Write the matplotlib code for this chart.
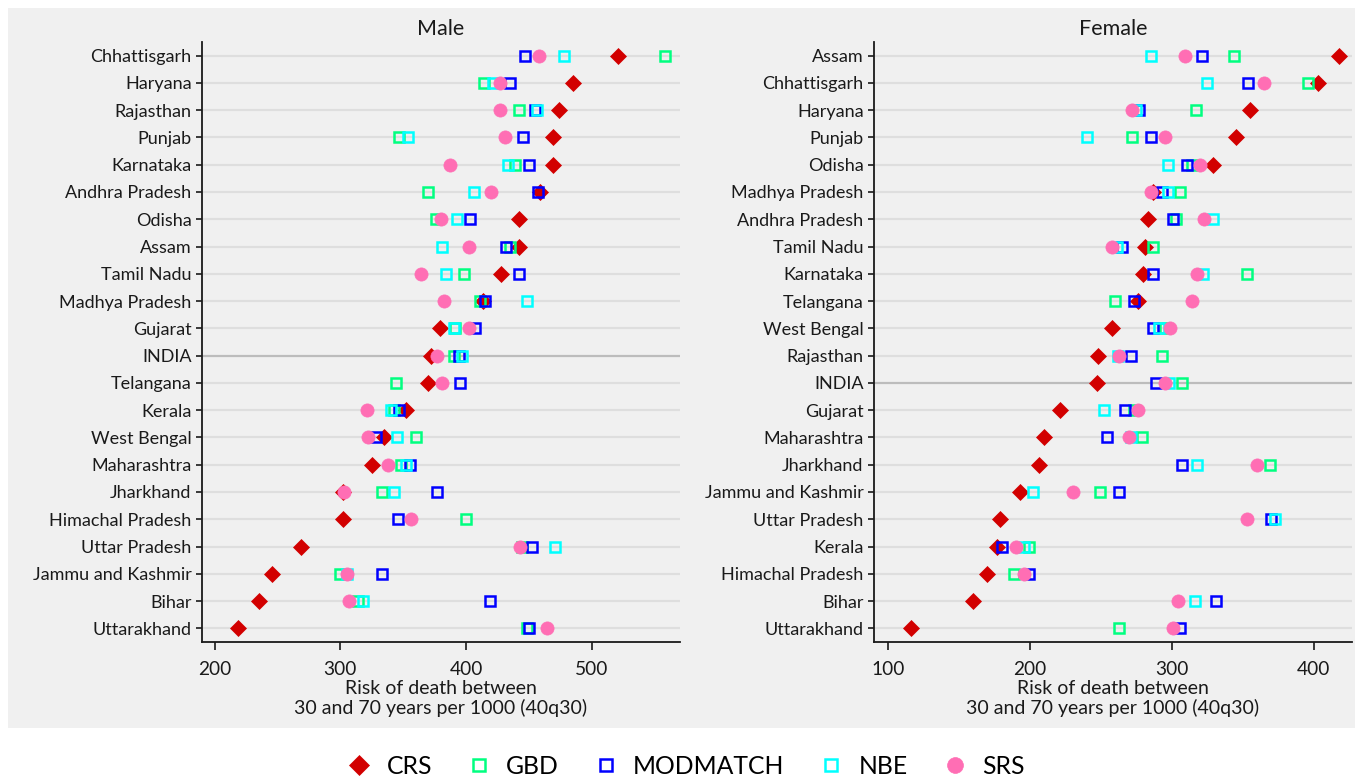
import numpy as np
import matplotlib
matplotlib.use("Agg")
import matplotlib.pyplot as plt
from matplotlib.patches import Rectangle
from matplotlib.lines import Line2D

plt.rcParams['font.family'] = ['Lato', 'DejaVu Sans']

nan = np.nan

# -------------------------------
# Data
# -------------------------------
states_m = ["Chhattisgarh", "Haryana", "Rajasthan", "Punjab", "Karnataka",
            "Andhra Pradesh", "Odisha", "Assam", "Tamil Nadu", "Madhya Pradesh",
            "Gujarat", "INDIA", "Telangana", "Kerala", "West Bengal", "Maharashtra",
            "Jharkhand", "Himachal Pradesh", "Uttar Pradesh", "Jammu and Kashmir",
            "Bihar", "Uttarakhand"]
crs_m = [521, 485, 474, 469, 469, 459, 442, 442, 428, 413, 379, 372, 370, 352, 335, 325, 302, 302, 269, 246, 235, 219]
gbd_m = [558, 414, 442, 347, 439, 370, 376, 435, 398, 411, 391, 390, 344, 343, 360, 348, 333, 400, 444, 300, 314, 448]
mod_m = [447, 435, 455, 445, 450, 457, 403, 432, 442, 415, 407, 394, 395, 347, 328, 355, 377, 346, 452, 333, 419, 450]
nbe_m = [478, 421, 456, 354, 433, 406, 393, 381, 384, 448, 390, 397, nan, 340, 345, 352, 343, nan, 471, 305, 318, nan]
srs_m = [458, 427, 427, 431, 387, 420, 380, 402, 364, 382, 402, 377, 381, 321, 322, 338, 303, 356, 443, 305, 307, 464]

states_f = ["Assam", "Chhattisgarh", "Haryana", "Punjab", "Odisha", "Madhya Pradesh",
            "Andhra Pradesh", "Tamil Nadu", "Karnataka", "Telangana", "West Bengal",
            "Rajasthan", "INDIA", "Gujarat", "Maharashtra", "Jharkhand",
            "Jammu and Kashmir", "Uttar Pradesh", "Kerala", "Himachal Pradesh",
            "Bihar", "Uttarakhand"]
crs_f = [418, 403, 355, 345, 329, 287, 283, 281, 280, 276, 258, 248, 247, 221, 210, 206, 193, 179, 177, 170, 160, 116]
gbd_f = [344, 396, 317, 272, 314, 306, 303, 287, 353, 260, 295, 293, 307, 273, 279, 369, 249, nan, 199, 189, nan, 263]
mod_f = [321, 354, 277, 285, 311, 293, 301, 265, 287, 273, 287, 271, 289, 267, 254, 307, 263, 370, 180, 199, 331, 306]
nbe_f = [285, 325, 275, 240, 297, 297, 329, 261, 322, nan, 291, 262, 298, 252, 271, 318, 202, 373, 196, nan, 316, nan]
srs_f = [309, 365, 272, 295, 320, 285, 323, 258, 318, 314, 299, 263, 295, 276, 270, 360, 230, 353, 190, 196, 304, 301]

series_names = ["CRS", "GBD", "MODMATCH", "NBE", "SRS"]
colors = {"CRS": "#d20000", "GBD": "#00ff80", "MODMATCH": "#0000ff",
          "NBE": "#00ffff", "SRS": "#ff6eb4"}

# -------------------------------
# Figure
# -------------------------------
W, H = 1355, 780
fig = plt.figure(figsize=(W / 100, H / 100), dpi=100)
fig.patch.set_facecolor("white")
fig.patches.append(Rectangle((8 / W, 1 - 728 / H), (W - 8) / W, 720 / H,
                             transform=fig.transFigure, facecolor="#f0f0f0",
                             edgecolor="none", zorder=-10))

bg = "#f0f0f0"
txt = "#1a1a1a"


def marker_style(name):
    c = colors[name]
    if name == "CRS":
        return dict(marker="D", ms=8.6, mfc=c, mec=c, mew=0.5)
    if name == "SRS":
        return dict(marker="o", ms=9.5, mfc=c, mec=c, mew=0.5)
    return dict(marker="s", ms=7.4, mfc="none", mec=c, mew=1.8)


def panel(ax, title, states, data, xlim, xticks):
    n = len(states)
    y = np.arange(n)
    ax.set_facecolor(bg)
    for i in range(n):
        col = "#bcbcbc" if states[i] == "INDIA" else "#dedede"
        ax.axhline(i, color=col, lw=1.6, zorder=1)
    for name, vals in zip(series_names, data):
        ax.plot(vals, y, ls="none", zorder=3, **marker_style(name))
    ax.set_ylim(n - 0.5, -0.5)
    ax.set_yticks(y)
    ax.set_yticklabels(states, fontsize=13, color=txt)
    ax.set_xlim(*xlim)
    ax.set_xticks(xticks)
    ax.tick_params(axis="x", length=6, width=1.2, labelsize=13.8, pad=8, colors=txt)
    ax.tick_params(axis="y", length=4.5, width=1.2, pad=3, colors=txt)
    for s in ["top", "right"]:
        ax.spines[s].set_visible(False)
    for s in ["left", "bottom"]:
        ax.spines[s].set_linewidth(1.3)
        ax.spines[s].set_color(txt)
    ax.set_title(title, fontsize=15.5, pad=5, color=txt)
    ax.set_xlabel("Risk of death between\n30 and 70 years per 1000 (40q30)",
                  fontsize=14, labelpad=1, linespacing=1.12, color=txt)


ax_m = fig.add_axes([202 / W, 1 - 642 / H, 478 / W, 600 / H])
panel(ax_m, "Male", states_m, [crs_m, gbd_m, mod_m, nbe_m, srs_m],
      (190, 570), [200, 300, 400, 500])

ax_f = fig.add_axes([874 / W, 1 - 642 / H, 478 / W, 600 / H])
panel(ax_f, "Female", states_f, [crs_f, gbd_f, mod_f, nbe_f, srs_f],
      (90, 427), [100, 200, 300, 400])

# -------------------------------
# Legend
# -------------------------------
handles = [Line2D([], [], ls="none", **marker_style(nm)) for nm in series_names]
fig.legend(handles, series_names, loc="center", bbox_to_anchor=(0.506, 1 - 766 / H),
           ncol=5, frameon=False, fontsize=17.8, markerscale=1.2,
           columnspacing=1.4, handletextpad=0.6, handlelength=1.0)

fig.savefig("out.png", dpi=100)
